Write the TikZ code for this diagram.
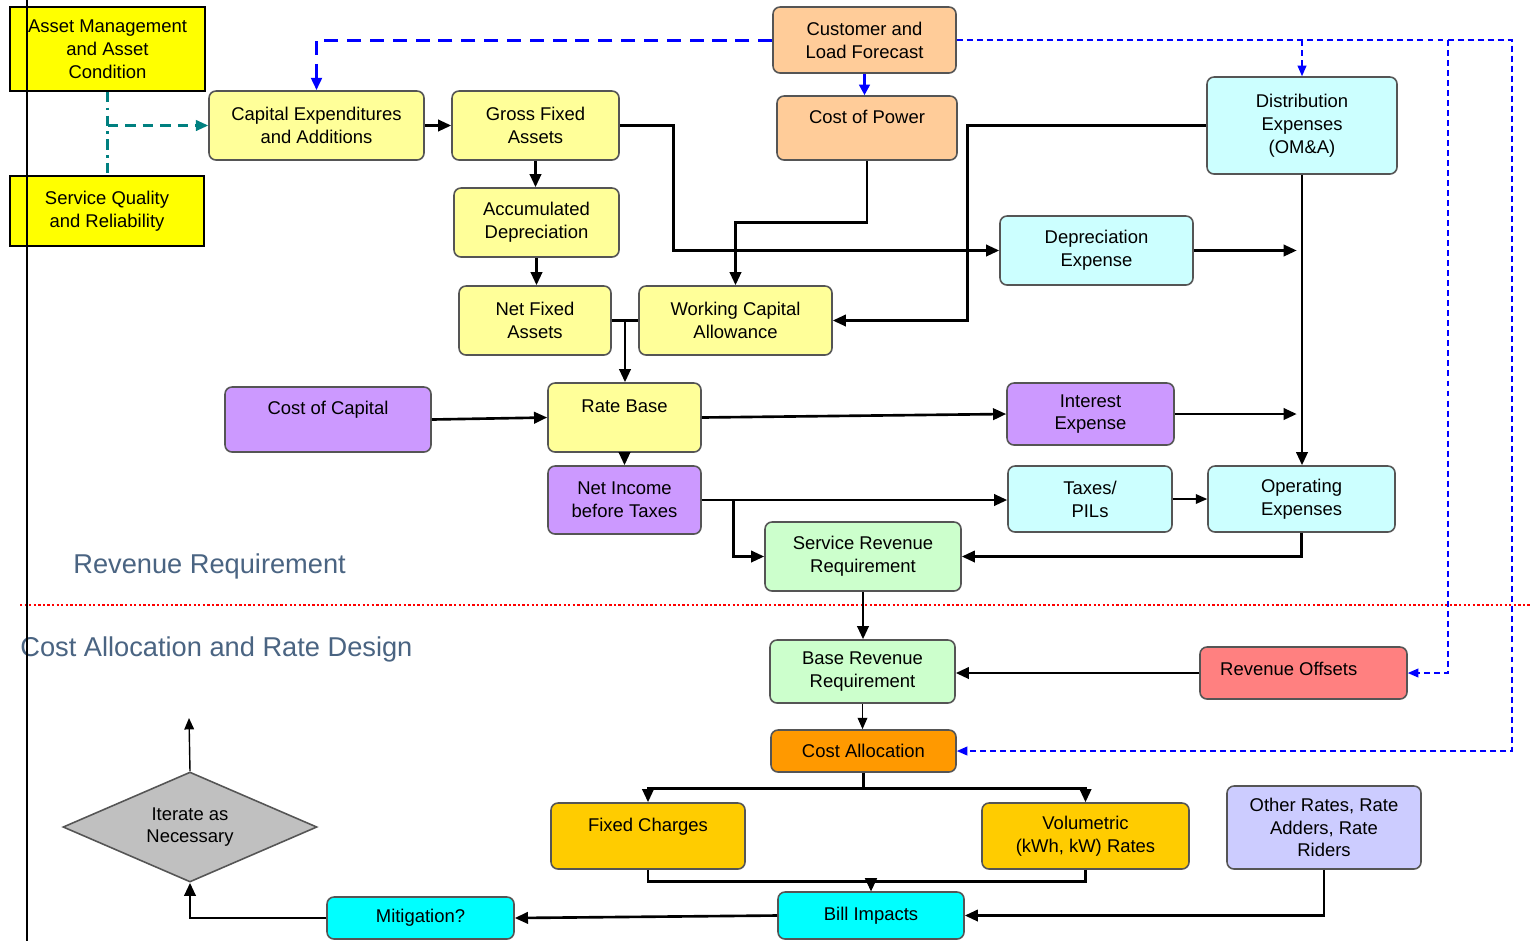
\documentclass[tikz,border=0pt]{standalone}
\usepackage{fontspec}
\setmainfont{Liberation Sans}
\usetikzlibrary{arrows.meta,shapes.geometric,calc}
\definecolor{byellow}{HTML}{FFFF00}
\definecolor{lyellow}{HTML}{FFFF99}
\definecolor{peach}{HTML}{FFCC99}
\definecolor{lcyan}{HTML}{CCFFFF}
\definecolor{purp}{HTML}{CC99FF}
\definecolor{lgreen}{HTML}{CCFFCC}
\definecolor{salmon}{HTML}{FF8080}
\definecolor{orng}{HTML}{FF9900}
\definecolor{gold}{HTML}{FFCC00}
\definecolor{lav}{HTML}{CCCCFF}
\definecolor{bcyan}{HTML}{00FFFF}
\definecolor{dgray}{HTML}{C0C0C0}
\definecolor{bordergray}{HTML}{555555}
\definecolor{titleblue}{HTML}{4A6482}
\definecolor{tealc}{HTML}{008080}
\definecolor{blueline}{HTML}{0000FF}
\newcommand\boxfont{\fontsize{10.5}{13}\selectfont}
\newcommand\bx[7]{\node[#2, minimum width={(#5-#3)*0.02cm}, minimum height={(#6-#4)*0.02cm}] (#1) at ({(#3+#5)/2},{(#4+#6)/2}) {#7};}
\begin{document}
\begin{tikzpicture}[x=0.02cm,y=-0.02cm,
  box/.style={draw=bordergray, line width=0.9pt, rounded corners=4pt, inner sep=0pt, align=center, font=\boxfont},
  sqbox/.style={draw=black, line width=0.9pt, inner sep=0pt, align=center, font=\boxfont, fill=byellow},
  conn/.style={line width=1.5pt},
  arr/.style={line width=1.5pt, -{Triangle[length=7.5pt,width=6.5pt]}},
  thinarr/.style={line width=0.8pt, -{Triangle[length=6.5pt,width=5.5pt]}},
  bluethick/.style={blueline, line width=1.7pt, dash pattern=on 8pt off 5pt, -{Triangle[length=7pt,width=6pt]}},
  bluethin/.style={blueline, line width=0.8pt, dash pattern=on 3.4pt off 2.3pt, -{Triangle[length=6pt,width=5pt]}},
  titletext/.style={font=\fontsize{15.5}{18}\selectfont, text=titleblue, inner sep=0pt, anchor=west}
]
\useasboundingbox (0,0) rectangle (1533,941);
\fill[white] (0,0) rectangle (1533,941);

% boxes
\bx{am}{sqbox}{10}{7}{205}{91}{Asset Management\\and Asset\\Condition}
\bx{svc}{sqbox}{10}{176}{204}{246}{Service Quality\\and Reliability}
\bx{capex}{box,fill=lyellow}{209}{91}{424}{160}{Capital Expenditures\\and Additions}
\bx{gfa}{box,fill=lyellow}{452}{91}{619}{160}{Gross Fixed\\Assets}
\bx{accdep}{box,fill=lyellow}{454}{188}{619}{257}{Accumulated\\Depreciation}
\bx{nfa}{box,fill=lyellow}{459}{286}{611}{355}{Net Fixed\\Assets}
\bx{wca}{box,fill=lyellow}{639}{286}{832}{355}{Working Capital\\Allowance}
\bx{cust}{box,fill=peach}{773}{7}{956}{73}{Customer and\\Load Forecast}
\bx{cop}{box,fill=peach}{777}{96}{957}{160}{Cost of Power\\\mbox{}}
\bx{dist}{box,fill=lcyan}{1207}{77}{1397}{174}{Distribution\\Expenses\\(OM\&A)}
\bx{depexp}{box,fill=lcyan}{1000}{216}{1193}{285}{Depreciation\\Expense}
\bx{coc}{box,fill=purp}{225}{387}{431}{452}{Cost of Capital\\\mbox{}}
\bx{rb}{box,fill=lyellow}{548}{383}{701}{452}{Rate Base\\\mbox{}}
\bx{intexp}{box,fill=purp}{1007}{383}{1174}{445}{Interest\\Expense}
\bx{ni}{box,fill=purp}{548}{466}{701}{534}{Net Income\\before Taxes}
\bx{tax}{box,fill=lcyan}{1008}{466}{1172}{532}{Taxes/\\PILs}
\bx{opex}{box,fill=lcyan}{1208}{466}{1395}{532}{Operating\\Expenses}
\bx{srr}{box,fill=lgreen}{765}{522}{961}{591}{Service Revenue\\Requirement}
\bx{brr}{box,fill=lgreen}{770}{640}{955}{703}{Base Revenue\\Requirement}
\bx{rev}{box,fill=salmon}{1200}{647}{1407}{699}{Revenue Offsets\rule{1.6em}{0pt}\\[-0.75em]\mbox{}}
\bx{ca}{box,fill=orng}{771}{730}{956}{772}{Cost Allocation}
\bx{fix}{box,fill=gold}{551}{803}{745}{869}{Fixed Charges\\\mbox{}}
\bx{vol}{box,fill=gold}{982}{803}{1189}{869}{Volumetric\\(kWh, kW) Rates}
\bx{oth}{box,fill=lav}{1227}{786}{1421}{869}{Other Rates, Rate\\Adders, Rate\\Riders}
\bx{bill}{box,fill=bcyan}{778}{892}{964}{939}{Bill Impacts}
\bx{mit}{box,fill=bcyan}{327}{897}{514}{939}{Mitigation?}
\node[diamond, aspect=2.3, draw=bordergray, fill=dgray, line width=0.9pt, inner sep=0pt,
  minimum width={254*0.02cm}, minimum height={110*0.02cm}, align=center, font=\boxfont] (iter) at (190,827) {Iterate as\\Necessary};
\coordinate (up) at (189,718);

% titles
\node[titletext] (t1) at (73,566) {Revenue Requirement};
\node[titletext] (t2) at (20,649) {Cost Allocation and Rate Design};
\draw[red, line width=1.3pt, dash pattern=on 1.3pt off 1.3pt] (20,605) -- (1530,605);
\draw[black, line width=1.1pt] (27,0) -- (27,941);

% teal links
\draw[tealc, line width=1.4pt, dash pattern=on 6pt off 3pt on 1.5pt off 3pt] (am.south) -- (am.south |- svc.north);
\draw[tealc, line width=1.4pt, dash pattern=on 6pt off 4pt, -{Triangle[length=7pt,width=6pt]}] (am.south |- capex.west) -- (capex.west);

% blue links
\draw[bluethick] (cust.west) -| (capex.north);
\draw[blueline, line width=1.7pt, -{Triangle[length=6pt,width=6pt]}] (cust.south) -- (cust.south |- cop.north);
\coordinate (c1) at (1512,40);
\coordinate (c2) at (1448,40);
\draw[bluethin] (cust.east) -- (c1) |- (ca.east);
\draw[bluethin] (cust.east -| dist.north) -- (dist.north);
\draw[bluethin] (c2) |- (rev.east);

% black connectors
\draw[arr] (capex) -- (gfa);
\draw[arr] (gfa.south) -- (gfa.south |- accdep.north);
\draw[arr] (gfa.east) -- ++(54,0) |- (depexp.west);
\draw[arr] (accdep.south) -- (accdep.south |- nfa.north);
\draw[arr] (cop.south) -- ++(0,62) -| (wca.north);
\draw[arr] (dist.west) -- ++(-239,0) |- (wca.east);
\draw[conn] (nfa.east) -- (wca.west);
\coordinate (nw) at ($(nfa.east)!0.5!(wca.west)$);
\draw[arr] (nw) -- (nw |- rb.north);
\draw[arr, shorten >=3pt] (depexp.east) -- (depexp.east -| dist.south);
\draw[arr] (dist.south) -- (dist.south |- opex.north);
\draw[arr] (coc.east) -- (rb.west);
\draw[arr] (rb.east) -- (intexp.west);
\draw[arr, shorten >=3pt] (intexp.east) -- (intexp.east -| dist.south);
\draw[arr] (rb.south) -- (rb.south |- ni.north);
\draw[arr] (ni.east) -- (ni.east -| tax.west);
\draw[arr] ($(ni.east)+(32,0)$) |- (srr.west);
\draw[thinarr] (tax.east) -- (tax.east -| opex.west);
\draw[arr] (opex.south) |- (srr.east);
\draw[arr] (srr.south) -- (srr.south |- brr.north);
\draw[arr] (rev.west) -- (rev.west -| brr.east);
\draw[thinarr] (brr.south) -- (brr.south |- ca.north);
\draw[arr] (ca.south) -- ++(0,16) -| (fix.north);
\draw[arr] (ca.south) -- ++(0,16) -| (vol.north);
\draw[arr] (fix.south) -- ++(0,12) -| (bill.north);
\draw[arr] (vol.south) -- ++(0,12) -| (bill.north);
\draw[arr] (oth.south) |- (bill.east);
\draw[arr] (bill.west) -- (mit.east);
\draw[arr] (mit.west) -| (iter.south);
\draw[thinarr] (iter.north) -- (up);
\end{tikzpicture}
\end{document}
